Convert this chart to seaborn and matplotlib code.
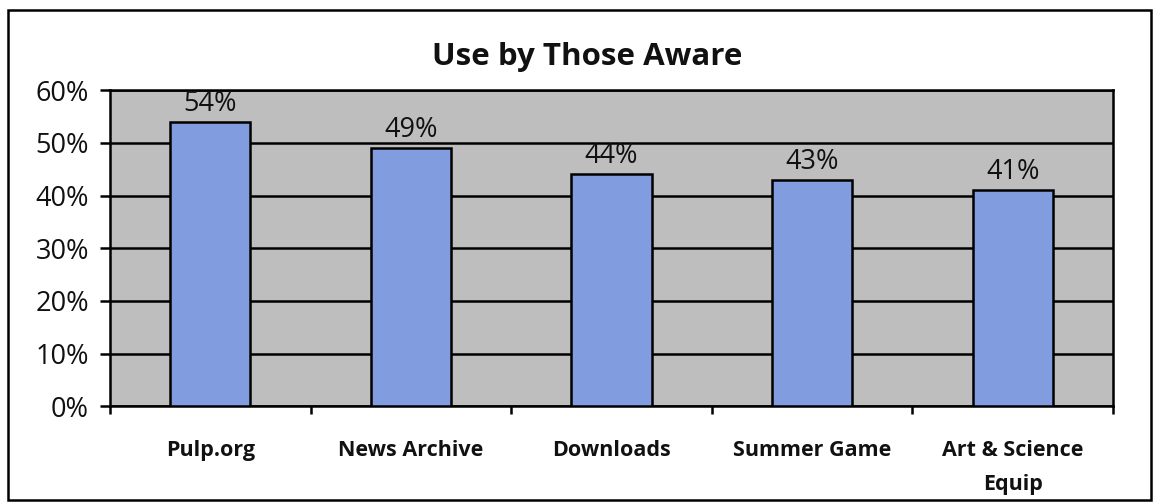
import matplotlib
matplotlib.use("Agg")
import matplotlib.pyplot as plt
import seaborn as sns
import pandas as pd
from matplotlib.patches import Rectangle
from matplotlib.ticker import FixedLocator, FuncFormatter

# Share of aware respondents who used each offering
categories = ["Pulp.org", "News Archive", "Downloads", "Summer Game", "Art & Science\nEquip"]
usage_pct = [54, 49, 44, 43, 41]
y_ticks = [0, 10, 20, 30, 40, 50, 60]
title = "Use by Those Aware"

sns.set_theme(style="white")
plt.rcParams["font.family"] = ["Open Sans", "DejaVu Sans"]

df = pd.DataFrame({"feature": categories, "pct": usage_pct})

fig = plt.figure(figsize=(11.55, 5.04), dpi=100)
fig.patch.set_facecolor("white")
ax = fig.add_axes([0.0952, 0.194, 0.8684, 0.627])
ax.set_facecolor("#bebebe")

sns.barplot(data=df, x="feature", y="pct", color="#829ddf", saturation=1,
            width=0.4, edgecolor="black", linewidth=1.8, ax=ax, zorder=3)

ax.bar_label(ax.containers[0], labels=[f"{v}%" for v in usage_pct],
             padding=3, fontsize=19.5, color="#111111", zorder=4)

# Axis ranges and ticks
ax.set_ylim(0, 60)
ax.set_xlim(-0.5, len(categories) - 0.5)
ax.yaxis.set_major_locator(FixedLocator(y_ticks))
ax.yaxis.set_major_formatter(FuncFormatter(lambda v, _: f"{v:.0f}%"))
ax.tick_params(axis="y", which="major", direction="out", length=7, width=1.8,
               color="black", labelsize=19.5, labelcolor="#111111", pad=8, left=True)

ax.xaxis.set_minor_locator(FixedLocator([i - 0.5 for i in range(len(categories) + 1)]))
ax.tick_params(axis="x", which="minor", direction="out", length=6, width=1.8,
               color="black", bottom=True)
ax.tick_params(axis="x", which="major", length=0, pad=24, labelsize=15.5,
               labelcolor="#111111")
for lbl in ax.get_xticklabels():
    lbl.set_fontweight("bold")
    lbl.set_linespacing(1.85)
    lbl.set_verticalalignment("top")

ax.set_xlabel("")
ax.set_ylabel("")

# Horizontal gridlines behind the bars
ax.yaxis.grid(True, color="black", linewidth=1.8, zorder=1)
ax.set_axisbelow(True)
for side in ["left", "bottom", "top", "right"]:
    ax.spines[side].set_visible(True)
    ax.spines[side].set_color("black")
    ax.spines[side].set_linewidth(1.8)

fig.text(0.508, 0.887, title, ha="center", va="center", fontsize=22.5,
         fontweight="bold", color="#111111")

# Chart border
fig.patches.append(Rectangle((0.0069, 0.008), 0.99, 0.972, transform=fig.transFigure,
                             fill=False, edgecolor="black", linewidth=1.8))

fig.savefig("out.png", dpi=100)
